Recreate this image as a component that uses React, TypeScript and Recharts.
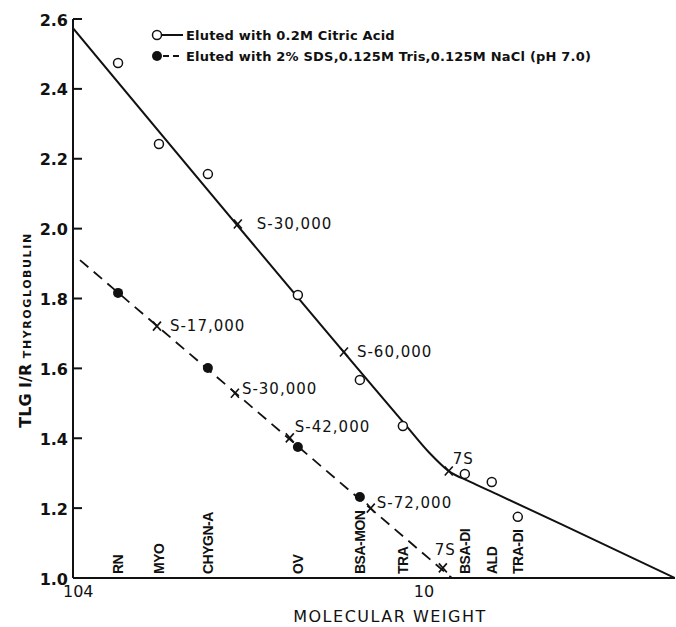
import React from 'react';
import {
  ComposedChart,
  Line,
  Scatter,
  XAxis,
  YAxis,
  Legend,
} from 'recharts';

// marker proteins and where they sit on the molecular weight axis
const proteins = ['RN', 'MYO', 'CHYGN-A', 'OV', 'BSA-MON', 'TRA', 'BSA-DI', 'ALD', 'TRA-DI'];
const proteinMw = [13440, 17580, 24240, 43750, 65720, 87150, 130900, 156200, 185300];

// open circles: eluted with citric acid
const citricRf = [2.474, 2.242, 2.156, 1.81, 1.567, 1.435, 1.298, 1.275, 1.175];

// filled circles: eluted with SDS buffer
const sdsProteins = ['RN', 'CHYGN-A', 'OV', 'BSA-MON'];
const sdsRf = [1.816, 1.601, 1.375, 1.232];

// drawn calibration curves
const citricFitMw = [10000, 87700, 104000, 117800, 135200, 161500, 248800, 520000];
const citricFitRf = [2.574, 1.444, 1.357, 1.306, 1.276, 1.24, 1.152, 1.0];
const sdsFitMw = [10470, 120200];
const sdsFitRf = [1.91, 1.0];

// thyroglobulin subunits (crosses)
const citricSamples = ['S-30,000', 'S-60,000', '7S'];
const citricSampleMw = [29500, 59200, 117800];
const citricSampleRf = [2.013, 1.647, 1.306];
const sdsSamples = ['S-17,000', 'S-30,000', 'S-42,000', 'S-72,000', '7S'];
const sdsSampleMw = [17350, 28940, 41500, 70600, 113300];
const sdsSampleRf = [1.721, 1.529, 1.401, 1.2, 1.029];

const yTicks = [1.0, 1.2, 1.4, 1.6, 1.8, 2.0, 2.2, 2.4, 2.6];
const xTicks = [10000, 100000];
const xTickLabels = ['104', '10'];

const legendLabels = [
  'Eluted with 0.2M Citric Acid',
  'Eluted with 2% SDS,0.125M Tris,0.125M NaCl (pH 7.0)',
];

const INK = '#111';
const FONT = '"DejaVu Sans", sans-serif';

// label placement next to each cross (styling only)
const citricLabelOffset = [[19, 0], [13, 0], [4, -12]];
const sdsLabelOffset = [[13, 0], [7, -4], [5, -11], [6, -5], [-8, -18]];

const citricPoints = proteins.map((p, i) => ({ mw: proteinMw[i], r: citricRf[i] }));
const sdsPoints = sdsProteins.map((p, i) => ({ mw: proteinMw[proteins.indexOf(p)], r: sdsRf[i] }));
const citricFit = citricFitMw.map((mw, i) => ({ mw, r: citricFitRf[i] }));
const sdsFit = sdsFitMw.map((mw, i) => ({ mw, r: sdsFitRf[i] }));
const citricCross = citricSamples.map((name, i) => ({ mw: citricSampleMw[i], r: citricSampleRf[i], name, i }));
const sdsCross = sdsSamples.map((name, i) => ({ mw: sdsSampleMw[i], r: sdsSampleRf[i], name, i }));
const proteinLabels = proteins.map((name, i) => ({ mw: proteinMw[i], r: 1.0, name }));

const OpenDot = ({ cx, cy }: any) => (
  <circle cx={cx} cy={cy} r={4.5} fill="#fff" stroke={INK} strokeWidth={1.5} />
);

const FilledDot = ({ cx, cy }: any) => <circle cx={cx} cy={cy} r={5} fill={INK} />;

const makeCross = (offsets: number[][]) => ({ cx, cy, payload }: any) => {
  const [dx, dy] = offsets[payload.i];
  return (
    <g>
      <line x1={cx - 4} y1={cy - 4.5} x2={cx + 4} y2={cy + 4.5} stroke={INK} strokeWidth={1.6} />
      <line x1={cx - 4} y1={cy + 4.5} x2={cx + 4} y2={cy - 4.5} stroke={INK} strokeWidth={1.6} />
      <text
        x={cx + dx}
        y={cy + dy}
        textAnchor="start"
        dominantBaseline="central"
        fontFamily={FONT}
        fontSize={15}
        letterSpacing={1}
        fill={INK}
      >
        {payload.name}
      </text>
    </g>
  );
};

const ProteinLabel = ({ cx, cy, payload }: any) => (
  <text
    transform={`translate(${cx},${cy - 4}) rotate(-90)`}
    textAnchor="start"
    dominantBaseline="central"
    fontFamily='"Liberation Sans", Arial, sans-serif'
    fontWeight="bold"
    fontSize={14}
    letterSpacing={-0.5}
    fill={INK}
  >
    {payload.name}
  </text>
);

const YTick = ({ x, y, payload }: any) => (
  <g>
    <line x1={x} y1={y} x2={x + 9} y2={y} stroke={INK} strokeWidth={2} />
    <text
      x={x - 5}
      y={y + 1}
      textAnchor="end"
      dominantBaseline="central"
      fontFamily={FONT}
      fontWeight="bold"
      fontSize={16}
      fill={INK}
    >
      {Number(payload.value).toFixed(1)}
    </text>
  </g>
);

const XTick = ({ x, y, payload }: any) => (
  <text x={x - 10} y={y + 19} textAnchor="start" fontFamily={FONT} fontSize={16} fill={INK}>
    {xTickLabels[xTicks.indexOf(payload.value)]}
  </text>
);

const renderLegend = () => (
  <svg width={470} height={44}>
    <circle cx={7} cy={11} r={4.5} fill="#fff" stroke={INK} strokeWidth={1.5} />
    <line x1={12} y1={11} x2={33} y2={11} stroke={INK} strokeWidth={2} />
    <circle cx={7} cy={32} r={5} fill={INK} />
    <line x1={13} y1={32} x2={32} y2={32} stroke={INK} strokeWidth={2} strokeDasharray="6 4" />
    {legendLabels.map((t, i) => (
      <text
        key={t}
        x={36}
        y={11 + i * 21}
        dominantBaseline="central"
        fontFamily={FONT}
        fontWeight="bold"
        fontSize={13}
        letterSpacing={0.2}
        fill={INK}
      >
        {t}
      </text>
    ))}
  </svg>
);

const App = () => {
  return (
    <div style={{ position: 'absolute', left: 0, top: 0, background: '#fff' }}>
      <ComposedChart width={676} height={627} margin={{ top: 19, right: 1, left: 13, bottom: 0 }}>
        <XAxis
          dataKey="mw"
          type="number"
          scale="log"
          domain={[10000, 520000]}
          allowDataOverflow
          ticks={xTicks}
          tick={<XTick />}
          tickLine={false}
          tickSize={0}
          tickMargin={0}
          height={49}
          axisLine={{ stroke: INK, strokeWidth: 2 }}
          label={{
            content: ({ viewBox }: any) => (
              <text
                x={viewBox.x + viewBox.width / 2 + 16}
                y={622}
                textAnchor="middle"
                fontFamily={FONT}
                fontSize={16}
                letterSpacing={1.5}
                fill={INK}
              >
                MOLECULAR WEIGHT
              </text>
            ),
          }}
        />
        <YAxis
          dataKey="r"
          type="number"
          domain={[1, 2.6]}
          allowDataOverflow
          ticks={yTicks}
          tick={<YTick />}
          tickLine={false}
          tickSize={0}
          tickMargin={0}
          width={60}
          axisLine={{ stroke: INK, strokeWidth: 2 }}
          label={{
            content: () => (
              <text
                transform="translate(31,330) rotate(-90)"
                textAnchor="middle"
                fontFamily={FONT}
                fontWeight="bold"
                fill={INK}
              >
                <tspan fontSize={16}>TLG I/R </tspan>
                <tspan fontSize={11} letterSpacing={1.6}>THYROGLOBULIN</tspan>
              </text>
            ),
          }}
        />
        <Legend
          layout="vertical"
          align="center"
          verticalAlign="middle"
          content={renderLegend}
          wrapperStyle={{ top: 24, left: 150, width: 470 }}
        />
        <Line
          data={citricFit}
          dataKey="r"
          type="monotone"
          stroke={INK}
          strokeWidth={2}
          dot={false}
          isAnimationActive={false}
        />
        <Line
          data={sdsFit}
          dataKey="r"
          type="linear"
          stroke={INK}
          strokeWidth={1.8}
          strokeDasharray="11 7"
          dot={false}
          isAnimationActive={false}
        />
        <Scatter data={proteinLabels} dataKey="r" shape={ProteinLabel} isAnimationActive={false} />
        <Scatter data={citricCross} dataKey="r" shape={makeCross(citricLabelOffset)} isAnimationActive={false} />
        <Scatter data={sdsCross} dataKey="r" shape={makeCross(sdsLabelOffset)} isAnimationActive={false} />
        <Scatter data={citricPoints} dataKey="r" shape={OpenDot} isAnimationActive={false} />
        <Scatter data={sdsPoints} dataKey="r" shape={FilledDot} isAnimationActive={false} />
      </ComposedChart>
    </div>
  );
};

export default App;
